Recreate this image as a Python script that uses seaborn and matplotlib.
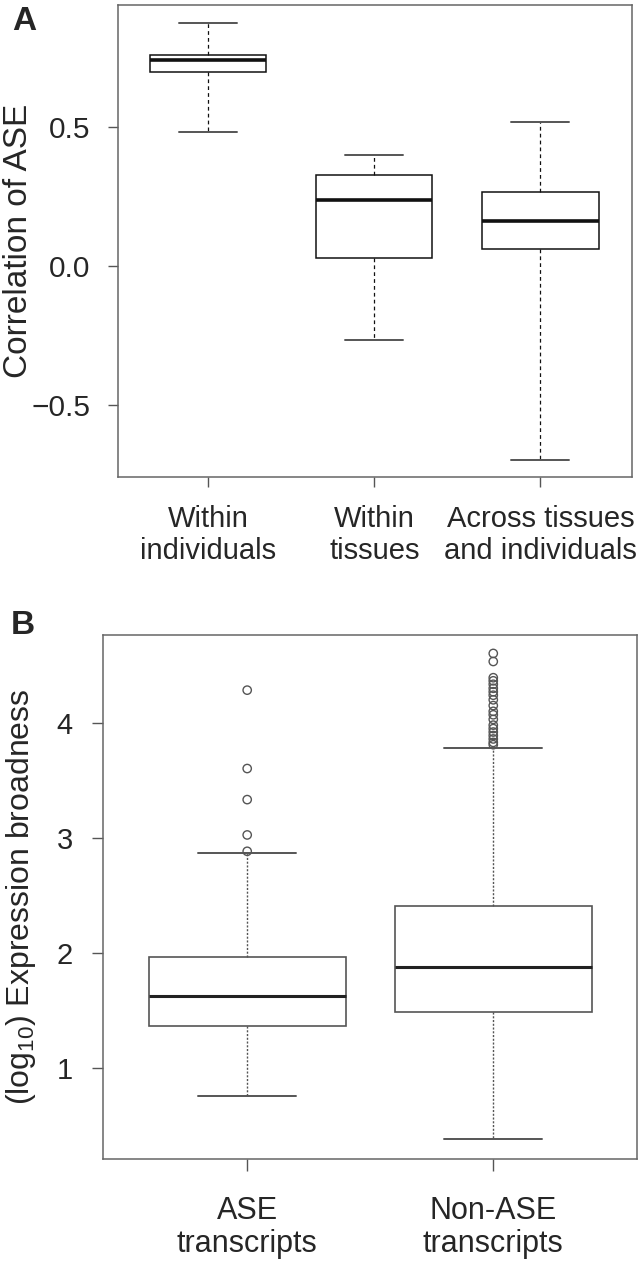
import matplotlib
matplotlib.use("Agg")
import matplotlib.pyplot as plt
import pandas as pd
import seaborn as sns

sns.set_style("white")
plt.rcParams["font.family"] = ["Liberation Sans", "DejaVu Sans"]
plt.rcParams["mathtext.default"] = "regular"

# ── Panel A: correlation of ASE (box summaries) ──
a_groups = ["Within\nindividuals", "Within\ntissues", "Across tissues\nand individuals"]
a_low = [0.483, -0.266, -0.698]
a_q1 = [0.699, 0.029, 0.062]
a_median = [0.741, 0.236, 0.163]
a_q3 = [0.761, 0.327, 0.266]
a_high = [0.874, 0.399, 0.517]
a_ticks = [-0.5, 0.0, 0.5]
a_ticklabels = ["\u22120.5", "0.0", "0.5"]

# ── Panel B: expression broadness ──
b_groups = ["ASE\ntranscripts", "Non-ASE\ntranscripts"]
b_low = [0.756, 0.384]
b_q1 = [1.367, 1.489]
b_median = [1.626, 1.881]
b_q3 = [1.967, 2.407]
b_high = [2.867, 3.781]
b_out_ase = [4.284, 3.603, 3.333, 3.026, 2.884]
b_out_non = [4.603, 4.533, 4.392, 4.365, 4.335, 4.30, 4.27, 4.24, 4.20, 4.15,
             4.10, 4.07, 4.03, 3.98, 3.95, 3.92, 3.89, 3.86, 3.83, 3.81]
b_ticks = [1, 2, 3, 4]


def five_num_frame(groups, low, q1, med, q3, high):
    # five points per group -> quartiles of the box land exactly on q1/med/q3
    rows = []
    for g, *vals in zip(groups, low, q1, med, q3, high):
        rows += [(g, v) for v in vals]
    return pd.DataFrame(rows, columns=["group", "value"])


df_a = five_num_frame(a_groups, a_low, a_q1, a_median, a_q3, a_high)
df_b = five_num_frame(b_groups, b_low, b_q1, b_median, b_q3, b_high)
df_out = pd.DataFrame(
    [(b_groups[0], v) for v in b_out_ase] + [(b_groups[1], v) for v in b_out_non],
    columns=["group", "value"],
)

fig = plt.figure(figsize=(6.44, 12.68), dpi=100)
ax_a = fig.add_axes([0.184, 0.6238, 0.797, 0.3722])
ax_b = fig.add_axes([0.1607, 0.086, 0.828, 0.4132])

# ── A ──
sns.boxplot(
    data=df_a, x="group", y="value", order=a_groups, ax=ax_a,
    whis=(0, 100), width=0.7, color="white", linecolor="#111111", linewidth=1.1,
    showfliers=False,
    medianprops=dict(color="#111111", linewidth=2.6),
    whiskerprops=dict(color="#111111", linewidth=0.9, linestyle=(0, (3, 2.5))),
    capprops=dict(color="#555555", linewidth=1.4),
)
ax_a.set_xlim(-0.54, 2.55)
ax_a.set_ylim(-0.759, 0.939)
ax_a.set_yticks(a_ticks)
ax_a.set_yticklabels(a_ticklabels)
ax_a.set_xlabel("")
ax_a.set_ylabel("Correlation of ASE", fontsize=24)
ax_a.yaxis.set_label_coords(-0.165, 0.5)
ax_a.tick_params(axis="y", left=True, length=7.5, width=1, color="#555555",
                 pad=13, labelsize=21.5)
ax_a.tick_params(axis="x", bottom=True, length=7, width=1, color="#555555",
                 pad=13, labelsize=21)
for lbl in ax_a.get_xticklabels():
    lbl.set_linespacing(1.2)

# ── B ──
sns.boxplot(
    data=df_b, x="group", y="value", order=b_groups, ax=ax_b,
    whis=(0, 100), width=0.8, color="white", linecolor="#555555", linewidth=1.2,
    showfliers=False,
    medianprops=dict(color="#222222", linewidth=2.2),
    whiskerprops=dict(color="#555555", linewidth=1.0, linestyle=(0, (1.5, 1.2))),
    capprops=dict(color="#555555", linewidth=1.4),
)
sns.stripplot(
    data=df_out, x="group", y="value", order=b_groups, ax=ax_b,
    jitter=False, color="#555555", facecolors="none", edgecolor="#555555",
    linewidth=1.0, size=6,
)
ax_b.set_xlim(-0.584, 1.583)
ax_b.set_ylim(0.211, 4.763)
ax_b.set_yticks(b_ticks)
ax_b.set_xlabel("")
ax_b.set_ylabel("(log$_{10}$) Expression broadness", fontsize=23)
ax_b.yaxis.set_label_coords(-0.123, 0.5)
ax_b.tick_params(axis="y", left=True, length=8, width=1, color="#555555",
                 pad=14, labelsize=21)
ax_b.tick_params(axis="x", bottom=True, length=8.5, width=1, color="#555555",
                 pad=18, labelsize=22)
for lbl in ax_b.get_xticklabels():
    lbl.set_linespacing(1.15)

for ax in (ax_a, ax_b):
    for sp in ax.spines.values():
        sp.set_color("#666666")
        sp.set_linewidth(1.1)

fig.text(12 / 644, 1 - 6 / 1268, "A", fontsize=24, fontweight="bold", va="top", ha="left")
fig.text(11 / 644, 1 - 610 / 1268, "B", fontsize=24, fontweight="bold", va="top", ha="left")

fig.savefig("out.png", dpi=100)
